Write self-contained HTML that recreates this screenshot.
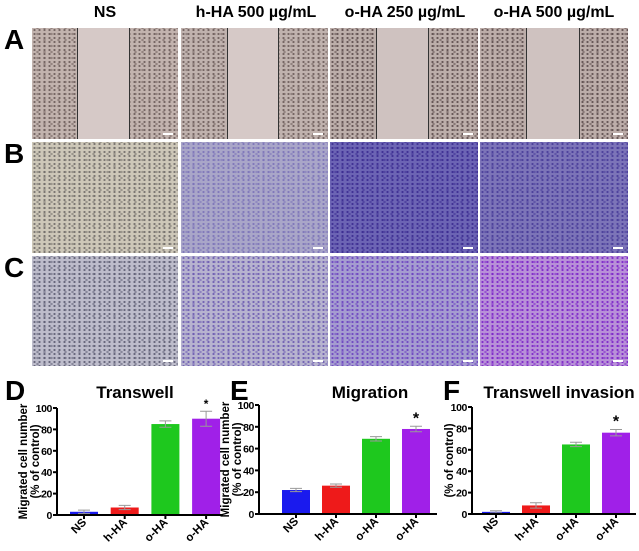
<!DOCTYPE html>
<html><head><meta charset="utf-8"><style>
body{margin:0;background:#fff;width:639px;height:551px;overflow:hidden;position:relative;font-family:"Liberation Sans",Arial,sans-serif}
.hd{position:absolute;top:4px;font-weight:bold;font-size:16px;transform:translateX(-50%);white-space:nowrap}
.lt{position:absolute;font-weight:bold;font-size:28px;line-height:28px}
.img{position:absolute;overflow:hidden}
.sbar{position:absolute;right:5px;bottom:4px;width:10px;height:2px;background:#fff}
.line{position:absolute;top:0;bottom:0;width:1px;background:#333}
</style></head><body>
<div class="hd" style="left:105px">NS</div>
<div class="hd" style="left:256px">h-HA 500 µg/mL</div>
<div class="hd" style="left:405px">o-HA 250 µg/mL</div>
<div class="hd" style="left:554px">o-HA 500 µg/mL</div>
<div class="lt" style="left:4px;top:26px">A</div>
<div class="lt" style="left:4px;top:140px">B</div>
<div class="lt" style="left:4px;top:254px">C</div>
<div id="imgs"></div>

<svg width="639" height="551" style="position:absolute;left:0;top:0" id="charts"></svg>

<script>
// micrograph panels (approximate textures)
const cols=[[32,146],[181,147],[330,148],[480,148]];
const rows=[[28,111],[142,111],[256,110]];
const panelBg=[
 ['#c2b3ae','#c0b2ae','#bcaeaa','#bcada9'],
 ['#cdc7b8','#a9a6c8','#6c64b4','#7c74b8'],
 ['#bdbccb','#b7b3cf','#a59cd0','#b890d8']];
const dot=[
 ['#6a5a58','#6a5a58','#5a4a4a','#5a4a4a'],
 ['#6e6a66','#7a72b8','#3a2a90','#463a98'],
 ['#5a5a70','#6a58b0','#6a40c0','#7a20c8']];
const gapBg=['#d6c9c7','#d6c9c7','#cfc2c0','#cfc2c0'];
const linesA=[[77,129],[227,278],[376,428],[526,579]];
let h='';
const names=['wound-healing','transwell-migration','transwell-invasion'];
for(let r=0;r<3;r++)for(let c=0;c<4;c++){
 const [x,w]=cols[c],[y,hh]=rows[r];
 let inner='';
 if(r===0){const[l1,l2]=linesA[c];
  inner=`<div style="position:absolute;left:${l1-x}px;width:${l2-l1}px;top:0;bottom:0;background:${gapBg[c]}"></div><div class="line" style="left:${l1-x}px"></div><div class="line" style="left:${l2-x}px"></div>`;}
 h+=`<div class="img" style="left:${x}px;top:${y}px;width:${w}px;height:${hh}px;background-color:${panelBg[r][c]};background-image:radial-gradient(${dot[r][c]} 0.8px,transparent 1.4px),radial-gradient(${dot[r][c]}88 1px,transparent 1.6px);background-size:5px 4px,7px 6px;background-position:0 0,2px 3px">${inner}<div class="sbar"></div></div>`;
}
document.getElementById('imgs').innerHTML=h;

// chart data
const categories=['NS','h-HA','o-HA','o-HA'];
const colors=['#1a1aee','#ee1a1a','#1ec81e','#a020e8'];
const transwellVals=[3,7,85,90];
const transwellErr=[1.5,2,3,7];
const migrationVals=[22,26,69,78];
const migrationErr=[1.5,1.5,2,2.5];
const invasionVals=[2,8,65,76];
const invasionErr=[1,2.5,2,3];
const yTicks=[0,20,40,60,80,100];
const starFlags=[false,false,false,true];

const NS='http://www.w3.org/2000/svg';
const svg=document.getElementById('charts');
function el(t,a,p){const e=document.createElementNS(NS,t);for(const k in a)e.setAttribute(k,a[k]);(p||svg).appendChild(e);return e;}
function chart(cfg){
 const g=el('g',{});
 
 
 const y=v=>cfg.y0-(cfg.y0-cfg.y100)*v/100;
 const x=i=>cfg.x0+cfg.first+i*cfg.step;
 const t=el('text',{x:cfg.titleX,y:398,'text-anchor':'middle','font-size':17,'font-weight':'bold'},g);t.textContent=cfg.title;
 
 
 const L=el('text',{x:cfg.letterX,y:400,'font-size':28,'font-weight':'bold'},g);L.textContent=cfg.letter;
 
 
 cfg.vals.forEach((v,i)=>{
  const b=el('rect',{x:x(i)-14,y:y(v),width:28,height:cfg.y0-y(v),fill:colors[i]},g);
  
  
  const e=cfg.err[i];
  el('path',{d:`M${x(i)} ${y(v+e)}V${y(v-e)}M${x(i)-6} ${y(v+e)}H${x(i)+6}M${x(i)-6} ${y(v-e)}H${x(i)+6}`,stroke:'#999','stroke-width':1,fill:'none'},g);
  if(starFlags[i]){const s=el('text',{x:x(i),y:y(v+e)-3,'text-anchor':'middle','font-size':cfg.starSize,'font-weight':'bold'},g);s.textContent='*';
   
   }
  const lb=el('text',{transform:`translate(${x(i)+3},${cfg.y0+8}) rotate(-45)`,'text-anchor':'end','font-size':11.5,'font-weight':'bold'},g);lb.textContent=categories[i];
  
  
  el('line',{x1:x(i),x2:x(i),y1:cfg.y0,y2:cfg.y0+4,stroke:'#000','stroke-width':2},g);
 });
 el('path',{d:`M${cfg.x0} ${cfg.y100}V${cfg.y0}H${cfg.x1}`,stroke:'#000','stroke-width':2,fill:'none'},g);
 yTicks.forEach(v=>{
  el('line',{x1:cfg.x0-4,x2:cfg.x0,y1:y(v),y2:y(v),stroke:'#000','stroke-width':2},g);
  const tt=el('text',{x:cfg.x0-5,y:y(v)+4,'text-anchor':'end','font-size':10.5,'font-weight':'bold','letter-spacing':'-0.4'},g);tt.textContent=v;
  
  
 });
 const cy=(cfg.y0+cfg.y100)/2;
 cfg.ylab.forEach((s,k)=>{
  const yl=el('text',{transform:`translate(${cfg.ylabX[k]},${cy}) rotate(-90)`,'text-anchor':'middle','font-size':11.5,'font-weight':'bold'},g);yl.textContent=s;
  
  
 });
}
chart({name:'transwell-chart',title:'Transwell',titleX:135,letter:'D',letterX:5,vals:transwellVals,err:transwellErr,x0:57,x1:223,first:27,step:40.7,y0:515,y100:408,ylab:['Migrated cell number','(% of control)'],ylabX:[27,39],starSize:12});
chart({name:'migration-chart',title:'Migration',titleX:370,letter:'E',letterX:230,vals:migrationVals,err:migrationErr,x0:259,x1:437,first:37,step:40,y0:514,y100:405,ylab:['Migrated cell number','(% of control)'],ylabX:[229,241],starSize:16});
chart({name:'invasion-chart',title:'Transwell invasion',titleX:559,letter:'F',letterX:443,vals:invasionVals,err:invasionErr,x0:472,x1:636,first:24,step:40,y0:514,y100:407,ylab:['(% of control)'],ylabX:[453],starSize:16});
</script>
</body></html>
